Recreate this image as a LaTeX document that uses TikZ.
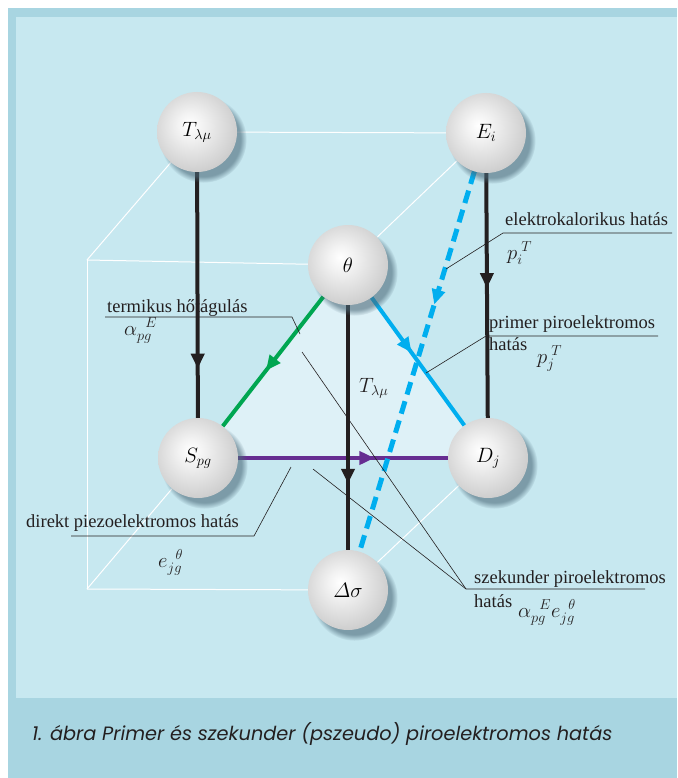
\documentclass[tikz,border=0pt]{standalone}
\usepackage{amsmath}
\usepackage{fontspec}
\setmainfont{Liberation Serif}
\newfontfamily\cimfont{Poppins}
\usetikzlibrary{arrows.meta,decorations.markings,shadows,backgrounds}
\definecolor{keret}{RGB}{168,213,225}
\definecolor{hatter}{RGB}{199,232,240}
\definecolor{haromszog}{RGB}{222,241,247}
\definecolor{zold}{RGB}{0,166,81}
\definecolor{cian}{RGB}{0,174,239}
\definecolor{lila}{RGB}{102,45,145}
\definecolor{fekete}{RGB}{35,31,32}
\pgfdeclareradialshading{gomb}{\pgfpoint{-5bp}{5bp}}{color(0bp)=(white);
  color(8bp)=(black!5); color(26bp)=(black!18); color(42bp)=(black!32); color(56bp)=(black!42)}

\begin{document}
\begin{tikzpicture}[x=1pt,y=-1pt,
  allapot/.style={circle,minimum size=80pt,inner sep=0pt,shade,shading=gomb,
    circular drop shadow={shadow xshift=6pt,shadow yshift=-7pt,shadow scale=1.08,
      fill=black!60!cyan,opacity=0.6},font=\fontsize{20}{20}\selectfont},
  el/.style={white,line width=1pt},
  nyil/.style={line width=4pt,postaction={decorate,decoration={markings,
    mark=at position #1 with {\arrow{Triangle[length=15pt,width=13pt]}}}}},
  felirat/.style={anchor=base west,inner sep=0pt,text=fekete,font=\fontsize{18.5}{20}\selectfont},
  kepl/.style={felirat,font=\fontsize{21}{22}\selectfont},
  mutato/.style={fekete,line width=0.6pt}
]
\useasboundingbox (0,0) rectangle (677,778);

% allapotok (gombok)
\node[allapot] (T) at (197,132) {$T_{\lambda\mu}$};
\node[allapot] (E) at (486,133) {$E_i$};
\node[allapot] (th) at (348,265) {$\theta$};
\node[allapot] (S) at (198,458) {$S_{pg}$};
\node[allapot] (D) at (488,458) {$D_j$};
\node[allapot] (ds) at (348,590) {$\varDelta\sigma$};

\coordinate (ffel) at (87,260);
\coordinate (fal) at (87,589);

% mutatovonalak vegpontjai
\coordinate (ek1) at (672,233); \coordinate (ek2) at (503,233); \coordinate (ek3) at (446,269);
\coordinate (pr1) at (658,336); \coordinate (pr2) at (486,336); \coordinate (pr3) at (426,373);
\coordinate (tm1) at (105,317); \coordinate (tm2) at (292,317); \coordinate (tm3) at (300,334);
\coordinate (dp1) at (71,536);  \coordinate (dp2) at (254,536); \coordinate (dp3) at (291,467);
\coordinate (sz1) at (645,589); \coordinate (sz2) at (466,589);
\coordinate (sz3) at (302,352); \coordinate (sz4) at (313,469);

\begin{scope}[on background layer]
\fill[white] (0,0) rectangle (677,778);
\fill[keret] (8,8) rectangle (677,778);
\fill[hatter] (16,17) rectangle (677,698);

% kocka
\draw[el] (T) -- (E);
\draw[el] (T) -- (ffel);
\draw[el] (ffel) -- (th);
\draw[el] (E) -- (th);
\draw[el] (ffel) -- (fal);
\draw[el] (fal) -- (ds);
\draw[el] (S) -- (fal);
\draw[el] (D) -- (ds);

\fill[haromszog] (th.center) -- (S.center) -- (D.center) -- cycle;

% feliratok
\node[felirat] (ekh) at (505,225) {elektrokalorikus hatás};
\node[kepl] (piT) at (507,259) {$p_i^{\;T}$};
\node[felirat] (prh) at (489,328) {primer piroelektromos};
\node[felirat] (prh2) at (489,350) {hatás};
\node[kepl] (pjT) at (537,363) {$p_j^{\;T}$};
\node[felirat] (tmh) at (107,312) {termikus hőtágulás};
\node[kepl] (aE) at (124,335) {$\alpha_{pg}^{\;\;E}$};
\node[kepl] (Tl) at (359,392) {$T_{\lambda\mu}$};
\node[felirat] (dph) at (26,527) {direkt piezoelektromos hatás};
\node[kepl] (ejg) at (158,567) {$e_{jg}^{\;\;\theta}$};
\node[felirat] (szh) at (474,583) {szekunder piroelektromos};
\node[felirat] (szh2) at (474,607) {hatás};
\node[kepl] (ae) at (518,617) {$\alpha_{pg}^{\;\;E}e_{jg}^{\;\;\theta}$};

% hatasok
\draw[nyil=0.65,lila] (S) -- (D);
\draw[nyil=0.57,zold] (th) -- (S);
\draw[nyil=0.43,cian] (th) -- (D);
\draw[nyil=0.8,fekete] (T) -- (S);
\draw[nyil=0.47,fekete] (E) -- (D);
\draw[nyil=0.73,fekete] (th) -- (ds);
\draw[nyil=0.35,cian,line width=5pt,dash pattern=on 13pt off 7pt] (E) -- (ds);

\draw[mutato] (ek1) -- (ek2) -- (ek3);
\draw[mutato] (pr1) -- (pr2) -- (pr3);
\draw[mutato] (tm1) -- (tm2) -- (tm3);
\draw[mutato] (dp1) -- (dp2) -- (dp3);
\draw[mutato] (sz1) -- (sz2) -- (sz3);
\draw[mutato] (sz2) -- (sz4);
\end{scope}

\node[anchor=base west,inner sep=0pt,text=fekete,font=\cimfont\itshape\fontsize{19.3}{21}\selectfont]
  (cim) at (32,740) {1. ábra Primer és szekunder (pszeudo) piroelektromos hatás};
\end{tikzpicture}
\end{document}
